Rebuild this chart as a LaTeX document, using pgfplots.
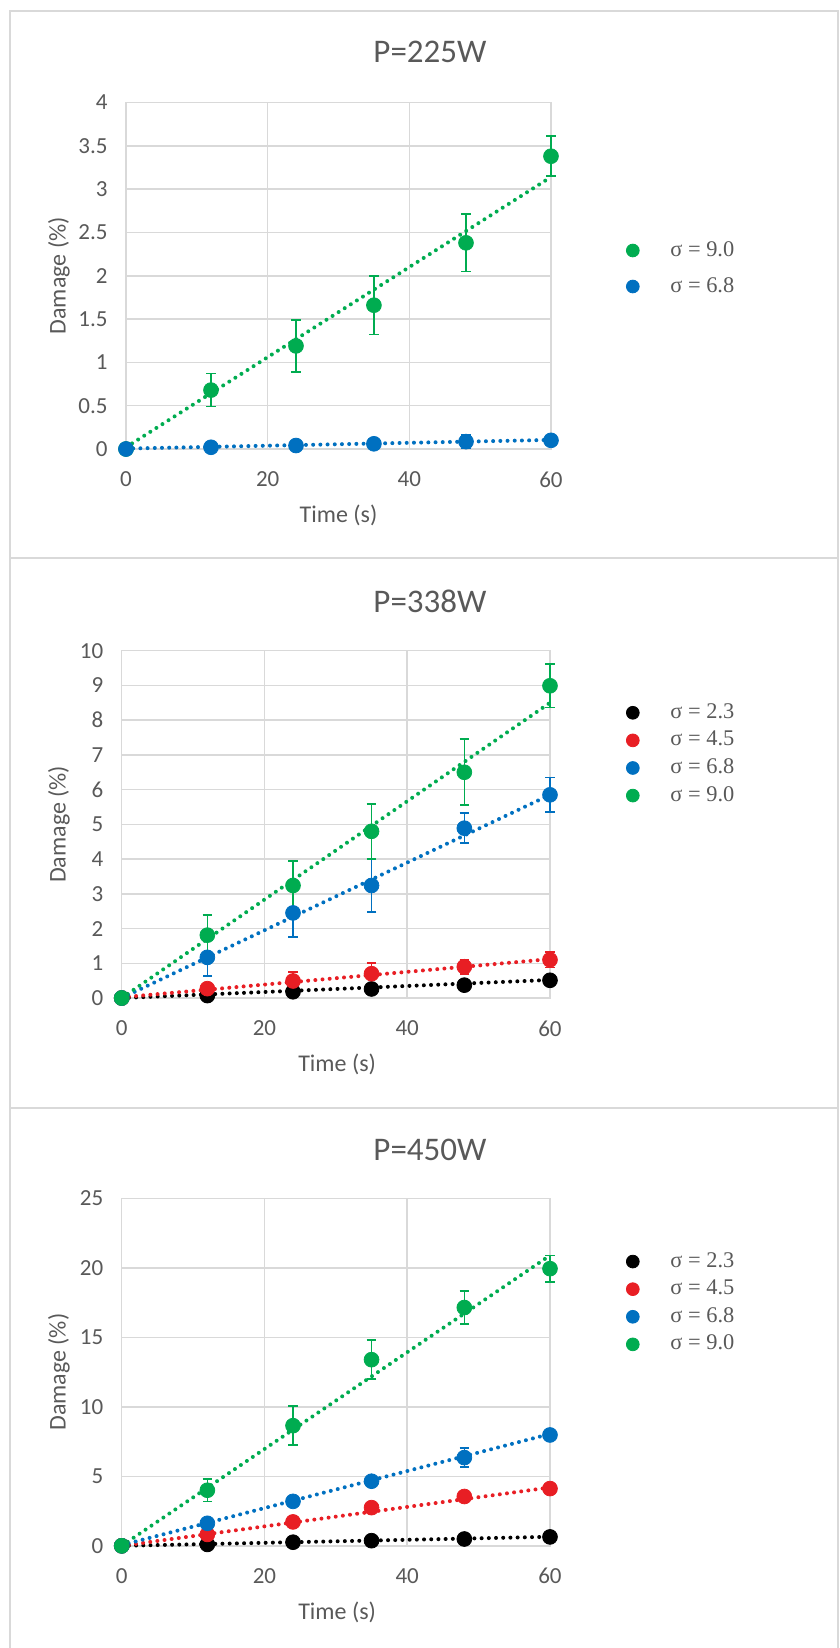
\documentclass[border=0pt]{standalone}
\usepackage{fontspec}
\setmainfont{Carlito}
\newfontfamily\legfont{Liberation Serif}
\usepackage{pgfplots}
\pgfplotsset{compat=1.18}
\usepackage{pgfplotstable}

\definecolor{cgreen}{RGB}{0,172,80}
\definecolor{cblue}{RGB}{0,112,192}
\definecolor{cred}{RGB}{232,30,36}
\definecolor{ctxt}{RGB}{89,89,89}
\definecolor{cgrid}{RGB}{217,217,217}

% P = 225 W
\pgfplotstableread{
x   g     ge    b     be
0   0     0     0     0
12  0.68  0.19  0.02  0.03
24  1.19  0.30  0.04  0.04
35  1.66  0.34  0.06  0.02
48  2.38  0.33  0.085 0.08
60  3.38  0.23  0.10  0.02
}\dataA
\pgfplotstableread{
x   g     b
0   0.02  0.005
60  3.14  0.105
}\trendA

% P = 338 W
\pgfplotstableread{
x   k     ke    r     re    b     be    g     ge
0   0     0     0     0     0     0     0     0
12  0.07  0.03  0.27  0.15  1.17  0.54  1.81  0.58
24  0.18  0.04  0.49  0.26  2.45  0.70  3.24  0.70
35  0.26  0.05  0.70  0.30  3.24  0.76  4.80  0.79
48  0.37  0.06  0.90  0.20  4.89  0.43  6.50  0.95
60  0.51  0.06  1.10  0.22  5.85  0.50  8.99  0.62
}\dataB
\pgfplotstableread{
x   k     r     b     g
0   0     0.02  0     0
60  0.52  1.12  5.85  8.50
}\trendB

% P = 450 W
\pgfplotstableread{
x   k     ke    r     re    b     be    g     ge
0   0     0     0     0     0     0     0     0
12  0.10  0.10  0.82  0.20  1.62  0.30  4.00  0.80
24  0.26  0.10  1.72  0.40  3.20  0.20  8.65  1.40
35  0.37  0.10  2.75  0.30  4.65  0.20  13.40 1.40
48  0.49  0.10  3.55  0.30  6.35  0.68  17.15 1.20
60  0.64  0.10  4.12  0.20  7.98  0.20  19.95 0.95
}\dataC
\pgfplotstableread{
x   k     r     b     g
0   0     0     0.05  0
60  0.65  4.20  8.05  20.9
}\trendC

\pgfplotsset{
  dmg/.style={
    scale only axis, anchor=south west, clip=false,
    xmin=0, xmax=60, xtick={0,20,40,60}, ymin=0,
    grid=major, major grid style={cgrid, line width=0.75pt},
    axis line style={cgrid, line width=0.75pt},
    major tick length=0pt,
    /pgf/number format/assume math mode=true,
    tick label style={font=\fontsize{11.5}{13}\selectfont, text=ctxt},
    xticklabel style={yshift=-7.7pt},
    yticklabel style={xshift=-5.7pt},
    label style={font=\fontsize{12}{14}\selectfont, text=ctxt},
    xlabel={Time (s)}, ylabel={Damage (\%)},
    legend style={draw=none, fill=none, inner sep=0pt, anchor=north west,
      font=\legfont\fontsize{11.2}{12}\selectfont, text=ctxt,
      nodes={inner sep=1pt, text height=7.6pt, text depth=2pt},
      column sep=14.6pt},
    legend cell align=left,
    legend image post style={mark size=3.2pt},
  },
  pts/.style={only marks, mark=*, mark size=3.7pt, color=#1,
    error bars/y dir=both, error bars/y explicit,
    error bars/error bar style={#1, line width=0.8pt},
    error bars/error mark options={#1, rotate=90, mark size=2.4pt, line width=0.8pt}},
  trend/.style={#1, line width=2pt, line cap=round, dash pattern=on 0pt off 3.6pt, forget plot},
}

\begin{document}
\begin{tikzpicture}
\path[use as bounding box] (0,0) rectangle (420pt,-824pt);
\draw[cgrid, line width=0.75pt] (5pt,-824pt) -- (5pt,-5.5pt) -- (419pt,-5.5pt) -- (419pt,-824pt);
\draw[cgrid, line width=0.75pt] (5pt,-279pt) -- (419pt,-279pt);
\draw[cgrid, line width=0.75pt] (5pt,-554pt) -- (419pt,-554pt);

\node[font=\fontsize{16.5}{19}\selectfont, text=ctxt] at (215pt,-25.85pt) {P=225W};
\node[font=\fontsize{16.5}{19}\selectfont, text=ctxt] at (215pt,-300.5pt) {P=338W};
\node[font=\fontsize{16.5}{19}\selectfont, text=ctxt] at (215pt,-574.8pt) {P=450W};

% panel 1
\begin{axis}[dmg, at={(63pt,-224.5pt)}, width=212.5pt, height=173.25pt,
  ymax=4, ytick={0,0.5,...,4},
  xlabel style={at={(axis description cs:0.5,-0.193)}, anchor=center},
  ylabel style={at={(axis description cs:-0.1576,0.5)}, anchor=center},
  legend style={at={(rel axis cs:1.1765,0.6075)}, row sep=6.4pt}]
\addplot[trend=cgreen] table[x=x, y=g] {\trendA};
\addplot[trend=cblue] table[x=x, y=b] {\trendA};
\addplot[pts=cgreen] table[x=x, y=g, y error=ge] {\dataA};
\addlegendentry{σ = 9.0}
\addplot[pts=cblue] table[x=x, y=b, y error=be] {\dataA};
\addlegendentry{σ = 6.8}
\end{axis}

% panel 2
\begin{axis}[dmg, at={(60.85pt,-499pt)}, width=214.15pt, height=173.65pt,
  ymax=10, ytick={0,1,...,10},
  xlabel style={at={(axis description cs:0.503,-0.190)}, anchor=center},
  ylabel style={at={(axis description cs:-0.1464,0.5)}, anchor=center},
  legend style={at={(rel axis cs:1.1775,0.8558)}, row sep=2.2pt}]
\addplot[trend=black] table[x=x, y=k] {\trendB};
\addplot[trend=cred] table[x=x, y=r] {\trendB};
\addplot[trend=cblue] table[x=x, y=b] {\trendB};
\addplot[trend=cgreen] table[x=x, y=g] {\trendB};
\addplot[pts=black] table[x=x, y=k, y error=ke] {\dataB};
\addlegendentry{σ = 2.3}
\addplot[pts=cred] table[x=x, y=r, y error=re] {\dataB};
\addlegendentry{σ = 4.5}
\addplot[pts=cblue] table[x=x, y=b, y error=be] {\dataB};
\addlegendentry{σ = 6.8}
\addplot[pts=cgreen] table[x=x, y=g, y error=ge] {\dataB};
\addlegendentry{σ = 9.0}
\end{axis}

% panel 3
\begin{axis}[dmg, at={(60.85pt,-772.9pt)}, width=214.15pt, height=173.65pt,
  ymax=25, ytick={0,5,...,25},
  xlabel style={at={(axis description cs:0.503,-0.193)}, anchor=center},
  ylabel style={at={(axis description cs:-0.1464,0.5)}, anchor=center},
  legend style={at={(rel axis cs:1.1775,0.853)}, row sep=2.2pt}]
\addplot[trend=black] table[x=x, y=k] {\trendC};
\addplot[trend=cred] table[x=x, y=r] {\trendC};
\addplot[trend=cblue] table[x=x, y=b] {\trendC};
\addplot[trend=cgreen] table[x=x, y=g] {\trendC};
\addplot[pts=black] table[x=x, y=k, y error=ke] {\dataC};
\addlegendentry{σ = 2.3}
\addplot[pts=cred] table[x=x, y=r, y error=re] {\dataC};
\addlegendentry{σ = 4.5}
\addplot[pts=cblue] table[x=x, y=b, y error=be] {\dataC};
\addlegendentry{σ = 6.8}
\addplot[pts=cgreen] table[x=x, y=g, y error=ge] {\dataC};
\addlegendentry{σ = 9.0}
\end{axis}
\end{tikzpicture}
\end{document}
